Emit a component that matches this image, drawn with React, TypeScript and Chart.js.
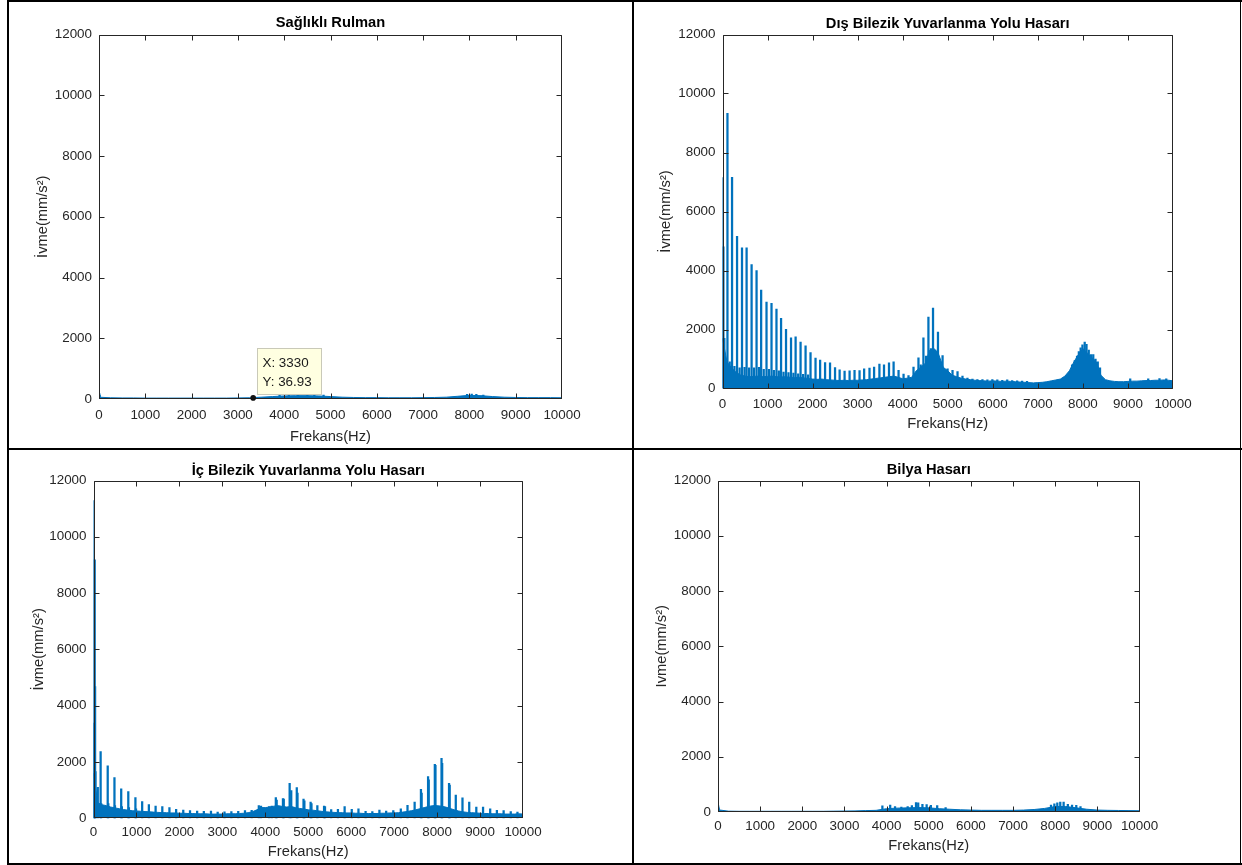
import React, { useEffect, useRef } from "react";
import { Chart, registerables } from "chart.js";

Chart.register(...registerables);

// ---------- axis / text data ----------
const X_TICKS = [0, 1000, 2000, 3000, 4000, 5000, 6000, 7000, 8000, 9000, 10000];
const Y_TICKS = [0, 2000, 4000, 6000, 8000, 10000, 12000];
const X_MIN = 0;
const X_MAX = 10000;
const Y_MIN = 0;
const Y_MAX = 12000;
const X_TITLE = "Frekans(Hz)";
const TITLES = [
  "Sağlıklı Rulman",
  "Dış Bilezik Yuvarlanma Yolu Hasarı",
  "İç Bilezik Yuvarlanma Yolu Hasarı",
  "Bilya Hasarı",
];
const Y_TITLES = ["İvme(mm/s²)", "İvme(mm/s²)", "İvme(mm/s²)", "Ivme(mm/s²)"];

// data tip on the healthy bearing panel
const TIP_X = 3330;
const TIP_Y = 36.93;

// ---------- spectra ----------
// Healthy bearing: noise floor sampled every 250 Hz, plus peaks [Hz, amplitude]
const HEALTHY_STEP = 250;
const HEALTHY_FLOOR = [
  60, 40, 35, 35, 30, 30, 30, 30, 30, 30, 30, 30, 35, 40, 60, 80, 100, 110, 110, 100,
  80, 60, 50, 45, 45, 40, 40, 40, 45, 50, 60, 90, 120, 110, 80, 60, 50, 45, 45, 45, 40,
];
const HEALTHY_SPIKES: [number, number][] = [
  [5, 180], [15, 130], [3900, 120], [4100, 140], [4300, 150], [4500, 160], [4650, 150],
  [4850, 130], [7950, 150], [8050, 160], [8150, 150], [8300, 130],
];

// Outer race fault: floor every 100 Hz
const OUTER_STEP = 100;
const OUTER_FLOOR = [
  1700, 900, 700, 550, 460, 420, 400, 410, 420, 400,
  410, 420, 400, 390, 400, 380, 370, 380, 360, 340,
  320, 310, 320, 300, 290, 280, 270, 280, 270, 280,
  280, 290, 300, 320, 340, 360, 380, 400, 420, 380,
  330, 350, 380, 600, 720, 850, 1300, 1350, 1150, 720,
  600, 450, 400, 350, 320, 300, 280, 270, 260, 250,
  260, 250, 240, 250, 240, 230, 220, 210, 200, 190,
  200, 210, 230, 260, 290, 320, 420, 600, 900, 1150,
  1350, 1200, 1050, 900, 450, 300, 260, 240, 230, 230,
  240, 250, 250, 260, 270, 270, 280, 280, 290, 280,
  260,
];
const OUTER_SPIKES: [number, number][] = [
  [5, 7150], [20, 4800], [40, 1700], [110, 9330], [160, 900], [212, 7160], [265, 750],
  [323, 5160], [380, 700], [433, 4770], [490, 720], [535, 4770], [590, 700], [646, 4200],
  [700, 700], [756, 4000], [810, 720], [858, 3340], [915, 650], [977, 2930], [1030, 650],
  [1088, 2890], [1140, 620], [1198, 2690], [1250, 600], [1300, 2380], [1355, 560],
  [1410, 2010], [1465, 540], [1521, 1720], [1575, 520], [1623, 1750], [1680, 500],
  [1733, 1570], [1790, 480], [1844, 1450], [1900, 460], [1954, 1220], [2065, 1030],
  [2167, 960], [2277, 880], [2387, 870], [2498, 710], [2600, 630], [2710, 590], [2821, 600],
  [2931, 620], [3042, 610], [3144, 670], [3263, 690], [3365, 730], [3483, 830], [3585, 800],
  [3696, 870], [3798, 900], [3908, 620], [4019, 490], [4129, 440], [4240, 730], [4350, 1040],
  [4400, 800], [4460, 1720], [4520, 1100], [4571, 2420], [4625, 1350], [4673, 2730],
  [4725, 1300], [4783, 1910], [4830, 900], [4885, 1120], [4996, 670], [5106, 620], [5217, 570],
  [5327, 420], [5437, 350], [5548, 320], [5658, 300], [5770, 300], [5880, 290], [5990, 300],
  [6100, 290], [6210, 280], [6320, 290], [6430, 270], [6540, 260], [6650, 250], [6760, 240],
  [7760, 800], [7820, 950], [7870, 1100], [7910, 1250], [7950, 1380], [7990, 1480],
  [8040, 1570], [8080, 1500], [8130, 1300], [8180, 1150], [8230, 1150], [8280, 1000],
  [8330, 900], [8380, 700], [9050, 330], [9450, 330], [9700, 340], [9850, 330],
];

// Inner race fault: floor every 100 Hz
const INNER_STEP = 100;
const INNER_FLOOR = [
  1600, 550, 480, 450, 400, 370, 340, 310, 290, 270,
  260, 250, 240, 230, 220, 210, 200, 200, 190, 190,
  180, 180, 170, 170, 160, 160, 160, 150, 150, 150,
  150, 160, 160, 160, 170, 180, 200, 230, 300, 380,
  380, 400, 430, 450, 420, 400, 420, 380, 350, 330,
  300, 290, 270, 250, 230, 220, 210, 200, 200, 190,
  190, 180, 180, 170, 170, 170, 170, 180, 180, 190,
  190, 200, 220, 240, 270, 300, 340, 380, 420, 450,
  450, 430, 400, 350, 300, 260, 230, 210, 200, 190,
  180, 170, 170, 160, 160, 160, 150, 150, 150, 160,
  150,
];
const INNER_SPIKES: [number, number][] = [
  [5, 11290], [12, 3380], [28, 9180], [37, 4680], [46, 1660], [100, 1100], [166, 2370],
  [180, 520], [331, 1860], [345, 520], [488, 1445], [500, 450], [645, 1043], [660, 420],
  [810, 948], [825, 380], [976, 735], [990, 340], [1133, 592], [1289, 486], [1446, 438],
  [1602, 415], [1768, 379], [1924, 320], [2090, 296], [2247, 272], [2413, 260], [2569, 249],
  [2735, 260], [2891, 225], [3050, 230], [3210, 240], [3370, 250], [3527, 272], [3683, 280],
  [3849, 450], [3900, 430], [4088, 415], [4150, 430], [4245, 735], [4265, 650], [4411, 700],
  [4430, 680], [4567, 1244], [4604, 983], [4733, 1090], [4750, 900], [4890, 687], [4910, 620],
  [5055, 580], [5075, 520], [5212, 450], [5368, 438], [5390, 420], [5534, 308], [5691, 320],
  [5847, 415], [6013, 320], [6169, 332], [6335, 249], [6492, 237], [6657, 296], [6814, 260],
  [6980, 272], [7155, 332], [7311, 462], [7477, 580], [7624, 1031], [7640, 900], [7790, 1481],
  [7805, 1370], [7947, 1919], [7962, 1880], [8103, 2133], [8118, 1950], [8278, 1244],
  [8293, 1180], [8435, 829], [8591, 723], [8748, 580], [8913, 403], [9070, 403], [9236, 332],
  [9392, 284], [9549, 272], [9715, 237], [9871, 225],
];

// Ball fault: floor every 250 Hz
const BALL_STEP = 250;
const BALL_FLOOR = [
  80, 30, 25, 25, 25, 25, 25, 25, 25, 25, 25, 30, 35, 40, 50, 60, 120, 140, 150, 160,
  150, 120, 100, 80, 70, 60, 60, 60, 60, 70, 90, 130, 200, 200, 150, 100, 70, 60, 55, 50, 45,
];
const BALL_SPIKES: [number, number][] = [
  [5, 220], [15, 150], [3900, 220], [4085, 250], [4200, 200], [4350, 180], [4500, 200],
  [4600, 230], [4698, 340], [4750, 330], [4850, 280], [4950, 270], [5050, 240], [5200, 230],
  [5400, 160], [7900, 250], [7980, 300], [8050, 330], [8120, 360], [8200, 360], [8300, 280],
  [8400, 250], [8500, 240], [8600, 200],
];

const SERIES = [
  { floor: HEALTHY_FLOOR, step: HEALTHY_STEP, spikes: HEALTHY_SPIKES },
  { floor: OUTER_FLOOR, step: OUTER_STEP, spikes: OUTER_SPIKES },
  { floor: INNER_FLOOR, step: INNER_STEP, spikes: INNER_SPIKES },
  { floor: BALL_FLOOR, step: BALL_STEP, spikes: BALL_SPIKES },
];

// ---------- layout (page coordinates) ----------
const LAYOUT = [
  { box: { x: 9, y: 2, w: 623, h: 446 }, plot: { l: 99, r: 562, t: 34.5, b: 399 }, titleY: 23.3, xLab: 16.5, xTitleY: 436.5, yTitleX: 43 },
  { box: { x: 634, y: 2, w: 606, h: 446 }, plot: { l: 722.5, r: 1173, t: 34.5, b: 388.5 }, titleY: 24, xLab: 15.7, xTitleY: 424, yTitleX: 666 },
  { box: { x: 9, y: 450, w: 623, h: 413 }, plot: { l: 93.5, r: 523, t: 480.5, b: 818.3 }, titleY: 470.7, xLab: 14.4, xTitleY: 852.3, yTitleX: 38.5 },
  { box: { x: 634, y: 450, w: 606, h: 413 }, plot: { l: 718, r: 1139.5, t: 480.5, b: 812 }, titleY: 470, xLab: 14, xTitleY: 845.7, yTitleX: 662 },
];

const FRAME_LINES = [
  { left: 7, top: 0, width: 1235, height: 2 },
  { left: 7, top: 0, width: 2, height: 865 },
  { left: 1240, top: 0, width: 1, height: 865 },
  { left: 7, top: 863, width: 1235, height: 2 },
  { left: 632, top: 0, width: 2, height: 865 },
  { left: 7, top: 448, width: 1235, height: 2 },
];

const FONT = "'Liberation Sans', Arial, Helvetica, sans-serif";
const TICK_SIZE = 13.4;
const LABEL_SIZE = 14.7;
const LH = 1.2;
const BLUE = "#0072BD";
const TEXT = "#262626";
const AXIS = "#262626";
const TICK_LEN = 5;

Chart.defaults.font.family = FONT;

const boxPlugin = {
  id: "matlabBox",
  afterDatasetsDraw(chart: any) {
    const { ctx, chartArea: a, scales } = chart;
    const x = scales.x;
    const y = scales.y;
    ctx.save();
    ctx.strokeStyle = AXIS;
    ctx.lineWidth = 1;
    const L = Math.round(a.left) + 0.5;
    const R = Math.round(a.right) - 0.5;
    const T = Math.round(a.top) + 0.5;
    const B = Math.round(a.bottom) - 0.5;
    const clamp = (v: number, lo: number, hi: number) => Math.min(Math.max(v, lo), hi);
    ctx.beginPath();
    ctx.rect(L, T, R - L, B - T);
    for (const v of X_TICKS) {
      const px = clamp(Math.round(x.getPixelForValue(v)) + 0.5, L, R);
      ctx.moveTo(px, B);
      ctx.lineTo(px, B - TICK_LEN);
      ctx.moveTo(px, T);
      ctx.lineTo(px, T + TICK_LEN);
    }
    for (const v of Y_TICKS) {
      const py = clamp(Math.round(y.getPixelForValue(v)) + 0.5, T, B);
      ctx.moveTo(L, py);
      ctx.lineTo(L + TICK_LEN, py);
      ctx.moveTo(R, py);
      ctx.lineTo(R - TICK_LEN, py);
    }
    ctx.stroke();
    ctx.restore();
  },
};

const tipPlugin = {
  id: "dataTip",
  afterDraw(chart: any) {
    const { ctx, scales } = chart;
    const px = scales.x.getPixelForValue(TIP_X);
    const py = scales.y.getPixelForValue(TIP_Y);
    ctx.save();
    const bx = Math.round(px + 4) + 0.5;
    const by = Math.round(py - 50) + 0.5;
    const bw = 64;
    const bh = 46;
    ctx.fillStyle = "#FFFFE1";
    ctx.strokeStyle = "#C9C9B8";
    ctx.lineWidth = 1;
    ctx.fillRect(bx, by, bw, bh);
    ctx.strokeRect(bx, by, bw, bh);
    ctx.fillStyle = "#1a1a1a";
    ctx.font = `${TICK_SIZE}px ${FONT}`;
    ctx.textBaseline = "middle";
    ctx.textAlign = "left";
    ctx.fillText(`X: ${TIP_X}`, bx + 5, by + 15);
    ctx.fillText(`Y: ${TIP_Y}`, bx + 5, by + 34);
    ctx.beginPath();
    ctx.arc(px, py, 2.8, 0, Math.PI * 2);
    ctx.fillStyle = "#111";
    ctx.fill();
    ctx.restore();
  },
};

function makeChart(canvas: HTMLCanvasElement, idx: number) {
  const s = SERIES[idx];
  const lay = LAYOUT[idx];
  const W = lay.box.w;
  const H = lay.box.h;
  const pl = lay.plot.l - lay.box.x;
  const pr = lay.plot.r - lay.box.x;
  const pt = lay.plot.t - lay.box.y;
  const pb = lay.plot.b - lay.box.y;
  const titleC = lay.titleY - lay.box.y;
  const xTitleC = lay.xTitleY - lay.box.y;
  const yTitleC = lay.yTitleX - lay.box.x;
  const Lh = LABEL_SIZE * LH;
  const Th = TICK_SIZE * LH;
  const tickFont = { family: FONT, size: TICK_SIZE, lineHeight: LH };
  const labelFont = { family: FONT, size: LABEL_SIZE, lineHeight: LH };

  const plugins: any[] = [boxPlugin];
  if (idx === 0) plugins.push(tipPlugin);

  return new Chart(canvas, {
    type: "bar",
    data: {
      datasets: [
        {
          type: "line",
          data: s.floor.map((v, i) => ({ x: i * s.step, y: v })),
          borderColor: BLUE,
          backgroundColor: BLUE,
          borderWidth: 1,
          pointRadius: 0,
          fill: "origin",
          tension: 0,
        } as any,
        {
          type: "bar",
          data: s.spikes.map(([x, y]) => ({ x, y })),
          backgroundColor: BLUE,
          borderWidth: 0,
          barThickness: 1.6,
          grouped: false,
        } as any,
      ],
    },
    options: {
      responsive: false,
      animation: false,
      events: [],
      layout: { padding: { left: 0, top: 0, right: W - pr, bottom: 0 } },
      plugins: {
        legend: { display: false },
        tooltip: { enabled: false },
        title: {
          display: true,
          text: TITLES[idx],
          fullSize: false,
          color: "#000",
          font: { family: FONT, size: LABEL_SIZE, weight: "bold", lineHeight: LH },
          padding: { top: titleC - Lh / 2, bottom: pt - titleC - Lh / 2 },
        },
      },
      scales: {
        x: {
          type: "linear",
          min: X_MIN,
          max: X_MAX,
          offset: false,
          grid: { display: false, drawTicks: false, tickLength: 0 },
          border: { display: false },
          afterBuildTicks: (sc: any) => {
            sc.ticks = X_TICKS.map((v) => ({ value: v }));
          },
          afterFit: (sc: any) => {
            sc.height = H - pb;
          },
          ticks: {
            autoSkip: false,
            maxRotation: 0,
            minRotation: 0,
            color: TEXT,
            font: tickFont,
            padding: lay.xLab - Th / 2,
            callback: (v: any) => String(v),
          },
          title: {
            display: true,
            text: X_TITLE,
            color: TEXT,
            font: labelFont,
            padding: { top: 0, bottom: H - xTitleC - Lh / 2 },
          },
        },
        y: {
          type: "linear",
          min: Y_MIN,
          max: Y_MAX,
          grid: { display: false, drawTicks: false, tickLength: 0 },
          border: { display: false },
          afterBuildTicks: (sc: any) => {
            sc.ticks = Y_TICKS.map((v) => ({ value: v }));
          },
          afterFit: (sc: any) => {
            sc.width = pl;
          },
          ticks: {
            autoSkip: false,
            color: TEXT,
            font: tickFont,
            padding: 7,
            callback: (v: any) => String(v),
          },
          title: {
            display: true,
            text: Y_TITLES[idx],
            color: TEXT,
            font: labelFont,
            padding: { top: yTitleC - Lh / 2, bottom: 0 },
          },
        },
      },
    } as any,
    plugins,
  });
}

export default function App() {
  const r0 = useRef<HTMLCanvasElement>(null);
  const r1 = useRef<HTMLCanvasElement>(null);
  const r2 = useRef<HTMLCanvasElement>(null);
  const r3 = useRef<HTMLCanvasElement>(null);
  const refs = [r0, r1, r2, r3];

  useEffect(() => {
    const charts = refs.map((r, i) => makeChart(r.current as HTMLCanvasElement, i));
    return () => charts.forEach((c) => c.destroy());
  }, []);

  return (
    <div
      style={{
        position: "absolute",
        left: 0,
        top: 0,
        width: 1242,
        height: 865,
        background: "#fff",
        overflow: "hidden",
      }}
    >
      {LAYOUT.map((l, i) => (
        <canvas
          key={i}
          ref={refs[i]}
          width={l.box.w}
          height={l.box.h}
          style={{ position: "absolute", left: l.box.x, top: l.box.y, width: l.box.w, height: l.box.h }}
        />
      ))}
      {FRAME_LINES.map((f, i) => (
        <div key={"f" + i} style={{ position: "absolute", background: "#000", ...f }} />
      ))}
    </div>
  );
}
